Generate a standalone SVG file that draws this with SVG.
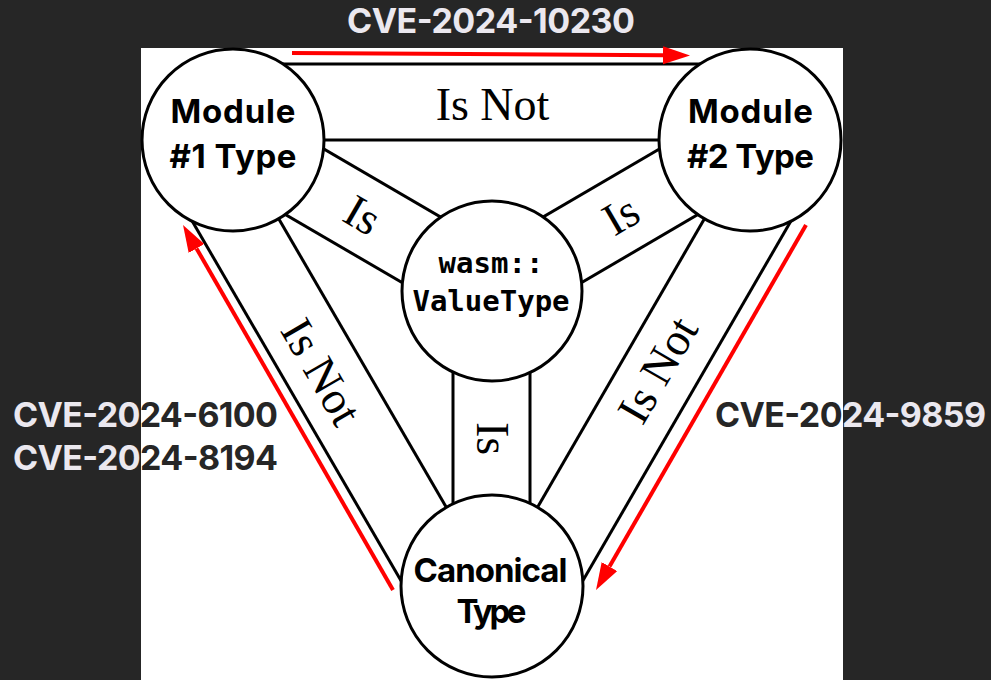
<svg xmlns="http://www.w3.org/2000/svg" xmlns:xlink="http://www.w3.org/1999/xlink" width="991" height="680" viewBox="0 0 991 680">
  <style>
    .band { stroke: #000; stroke-width: 3; fill: none; }
    .node { fill: #fff; stroke: #000; stroke-width: 3; }
    .nlabel { font-family: Inter, "Liberation Sans", sans-serif; font-weight: 700; font-size: 33px; fill: #000; text-anchor: middle; }
    .mono { font-family: "DejaVu Sans Mono", "Liberation Mono", monospace; font-weight: 700; font-size: 29px; fill: #000; text-anchor: middle; }
    .elabel { font-family: "Liberation Serif", "Times New Roman", serif; font-size: 46px; fill: #000; text-anchor: middle; }
    .cve { font-family: Inter, "Liberation Sans", sans-serif; font-weight: 700; font-size: 34px; }
    .red { stroke: #ff0000; stroke-width: 4; fill: none; marker-end: url(#head); }
  </style>
  <defs>
    <marker id="head" markerUnits="userSpaceOnUse" markerWidth="28" markerHeight="20" refX="0" refY="9" orient="auto">
      <path d="M0,0 L27,9 L0,18 Z" fill="#ff0000"/>
    </marker>
    <clipPath id="inPanel"><rect x="141" y="48" width="702" height="632"/></clipPath>
    <clipPath id="outPanel"><path clip-rule="evenodd" d="M0,0 H991 V680 H0 Z M141,48 V680 H843 V48 Z"/></clipPath>
    <g id="cveText">
      <text class="cve" x="347" y="33" textLength="288">CVE-2024-10230</text>
      <text class="cve" x="13" y="427" textLength="265">CVE-2024-6100</text>
      <text class="cve" x="13" y="470" textLength="265">CVE-2024-8194</text>
      <text class="cve" x="715" y="427" textLength="271">CVE-2024-9859</text>
    </g>
  </defs>

  <!-- backdrop and white panel -->
  <rect x="0" y="0" width="991" height="680" fill="#262626"/>
  <rect x="141" y="48" width="702" height="632" fill="#ffffff"/>

  <!-- relation bands: each is a pair of parallel rules, ends hidden under the nodes -->
  <g id="connectors">
    <g id="band-m1-m2">
      <line class="band" x1="233" y1="140" x2="750" y2="140"/>
      <line class="band" x1="233" y1="64" x2="750" y2="64"/>
    </g>
    <g id="band-m1-canon">
      <line class="band" x1="233" y1="140" x2="492" y2="586"/>
      <line class="band" x1="167.3" y1="178.2" x2="426.3" y2="624.2"/>
    </g>
    <g id="band-m2-canon">
      <line class="band" x1="750" y1="140" x2="492" y2="586"/>
      <line class="band" x1="815.8" y1="178" x2="557.8" y2="624"/>
    </g>
    <g id="band-m1-wasm">
      <line class="band" x1="213.8" y1="172.8" x2="472.8" y2="323.8"/>
      <line class="band" x1="252.2" y1="107.2" x2="511.2" y2="258.2"/>
    </g>
    <g id="band-m2-wasm">
      <line class="band" x1="769.2" y1="172.8" x2="511.2" y2="323.8"/>
      <line class="band" x1="730.8" y1="107.2" x2="472.8" y2="258.2"/>
    </g>
    <g id="band-wasm-canon">
      <line class="band" x1="453" y1="291" x2="453" y2="586"/>
      <line class="band" x1="530" y1="291" x2="530" y2="586"/>
    </g>

    <!-- band labels -->
    <text class="elabel" x="492.5" y="120">Is Not</text>
    <text class="elabel" transform="translate(362.5,215.5) rotate(30.2)" x="0" y="15">Is</text>
    <text class="elabel" transform="translate(621,215.5) rotate(-30.3)" x="0" y="15">Is</text>
    <text class="elabel" transform="translate(491.5,438.5) rotate(90)" x="0" y="15">Is</text>
    <text class="elabel" transform="translate(321,372) rotate(59.9)" x="0" y="15">Is Not</text>
    <text class="elabel" transform="translate(658,370) rotate(-59.9)" x="0" y="15">Is Not</text>

    <!-- red arrows along the outer bands -->
    <line class="red" x1="292" y1="53" x2="663" y2="55.3"/>
    <line class="red" x1="393" y1="590" x2="196.5" y2="248.4"/>
    <line class="red" x1="806" y1="225" x2="609.5" y2="566.6"/>
  </g>

  <!-- nodes -->
  <g id="module1">
    <circle class="node" cx="233" cy="140" r="91"/>
    <text class="nlabel" x="233" y="123" textLength="125">Module</text>
    <text class="nlabel" x="233" y="168" textLength="127">#1 Type</text>
  </g>
  <g id="module2">
    <circle class="node" cx="750" cy="140" r="91"/>
    <text class="nlabel" x="750.5" y="123" textLength="125">Module</text>
    <text class="nlabel" x="750.5" y="168" textLength="127">#2 Type</text>
  </g>
  <g id="valuetype">
    <circle class="node" cx="492" cy="291" r="90"/>
    <text class="mono" x="491" y="273">wasm::</text>
    <text class="mono" x="491" y="311">ValueType</text>
  </g>
  <g id="canonical">
    <circle class="node" cx="492" cy="586" r="91"/>
    <text class="nlabel" x="490.5" y="582" textLength="154">Canonical</text>
    <text class="nlabel" x="491.5" y="623" textLength="70">Type</text>
  </g>

  <!-- CVE captions: light on the dark backdrop, dark over the white panel -->
  <g id="cve-labels">
    <use xlink:href="#cveText" fill="#ebe8ef" clip-path="url(#outPanel)"/>
    <use xlink:href="#cveText" fill="#262626" clip-path="url(#inPanel)"/>
  </g>
</svg>
